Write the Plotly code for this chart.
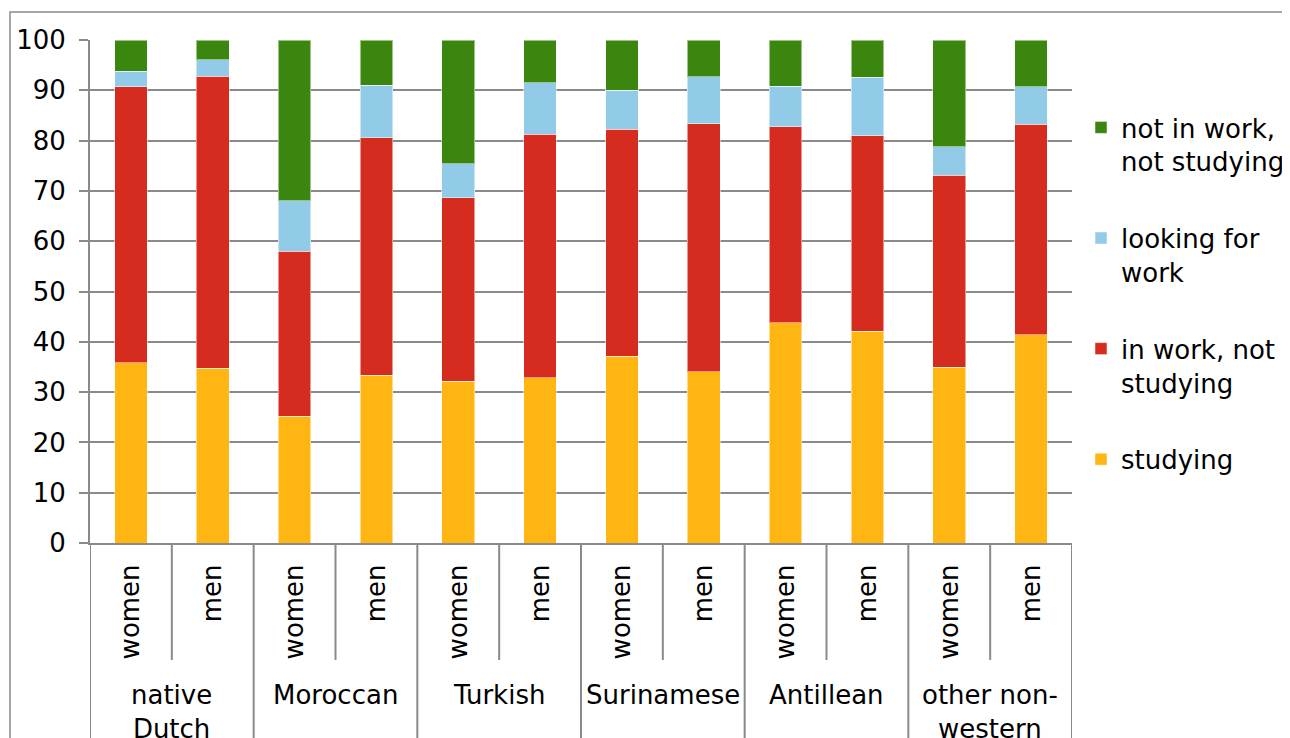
import plotly.graph_objects as go

groups = ["native<br>Dutch", "Moroccan", "Turkish", "Surinamese", "Antillean", "other non-<br>western"]
sexes = ["women", "men"]
categories = [f"{g.replace('<br>', ' ')} {s}" for g in groups for s in sexes]
sex_labels = [s for g in groups for s in sexes]

studying = [35.8, 34.7, 25.2, 33.4, 32.2, 32.9, 37.1, 34.0, 43.8, 42.1, 34.9, 41.4]
in_work = [54.9, 58.1, 32.8, 47.2, 36.4, 48.4, 45.2, 49.4, 39.0, 38.9, 38.2, 41.9]
looking = [3.1, 3.3, 10.0, 10.4, 6.8, 10.2, 7.7, 9.3, 8.0, 11.6, 5.7, 7.4]
not_work = [6.2, 3.9, 32.0, 9.0, 24.6, 8.5, 10.0, 7.3, 9.2, 7.4, 21.2, 9.3]

series = [
    ("studying", studying, "#FFB612"),
    ("in work, not<br>studying", in_work, "#D62B1F"),
    ("looking for<br>work", looking, "#92CBE8"),
    ("not in work,<br>not studying", not_work, "#3A860E"),
]

FONT = "DejaVu Sans"
FS = 26
GRID = "#8A8A8A"

fig = go.Figure()
for i, (name, vals, color) in enumerate(series):
    fig.add_trace(go.Bar(
        x=categories, y=vals, name=name, legendgroup=f"g{i}",
        legendrank=len(series) - i,
        marker=dict(color=color, line=dict(color="rgba(255,255,255,0.5)", width=1)),
    ))

OFF = 8  # page body margin
W, H = 1290 - OFF, 738 - OFF
L, R, T, B = 90 - OFF, 1072 - OFF, 40 - OFF, 543 - OFF

def px_x(p):
    return (p - OFF - L) / (R - L)

def px_y(p):
    return (B - (p - OFF)) / (B - T)

shapes = []
# outer chart border
shapes.append(dict(type="rect", xref="paper", yref="paper",
                   x0=px_x(10), x1=px_x(1320), y0=px_y(770), y1=px_y(12),
                   line=dict(color=GRID, width=1.5), layer="below"))
n = len(categories)
# group dividers
for k in range(len(groups) + 1):
    xv = 2 * k - 0.5
    shapes.append(dict(type="line", xref="x", yref="paper", x0=xv, x1=xv,
                       y0=0, y1=px_y(760), line=dict(color=GRID, width=2)))
# inner dividers between women and men
for k in range(len(groups)):
    xv = 2 * k + 0.5
    shapes.append(dict(type="line", xref="x", yref="paper", x0=xv, x1=xv,
                       y0=0, y1=px_y(660), line=dict(color=GRID, width=2)))

annotations = []
for k, g in enumerate(groups):
    annotations.append(dict(x=2 * k + 0.5, xref="x", y=px_y(678), yref="paper",
                            text=g, showarrow=False, yanchor="top", xanchor="center",
                            font=dict(family=FONT, size=FS, color="#000")))

fig.update_layout(
    width=W, height=H,
    margin=dict(l=L, r=W - R, t=T, b=H - B, pad=0, autoexpand=False),
    barmode="stack", bargap=0.6,
    plot_bgcolor="white", paper_bgcolor="white",
    font=dict(family=FONT, size=FS, color="#000"),
    shapes=shapes, annotations=annotations,
    legend=dict(traceorder="grouped", valign="top", tracegroupgap=40,
                x=px_x(1081), xanchor="left", y=px_y(104), yanchor="top",
                font=dict(family=FONT, size=FS, color="#000"),
                bgcolor="rgba(0,0,0,0)", itemwidth=30),
    showlegend=True,
)
fig.update_xaxes(type="category", tickvals=categories, ticktext=sex_labels,
                 tickangle=-90, showgrid=False, showline=True, linecolor=GRID, linewidth=2,
                 ticks="", ticklabelstandoff=9, range=[-0.5, n - 0.5], automargin=False,
                 tickfont=dict(family=FONT, size=FS, color="#000"))
fig.update_yaxes(range=[0, 100], dtick=10, showgrid=True, gridcolor=GRID, gridwidth=2,
                 showline=True, linecolor=GRID, linewidth=2, ticks="outside",
                 ticklen=9, tickcolor=GRID, tickwidth=2, ticklabelstandoff=8,
                 zeroline=False, automargin=False,
                 tickfont=dict(family=FONT, size=FS, color="#000"))

fig.write_html("out.html")
